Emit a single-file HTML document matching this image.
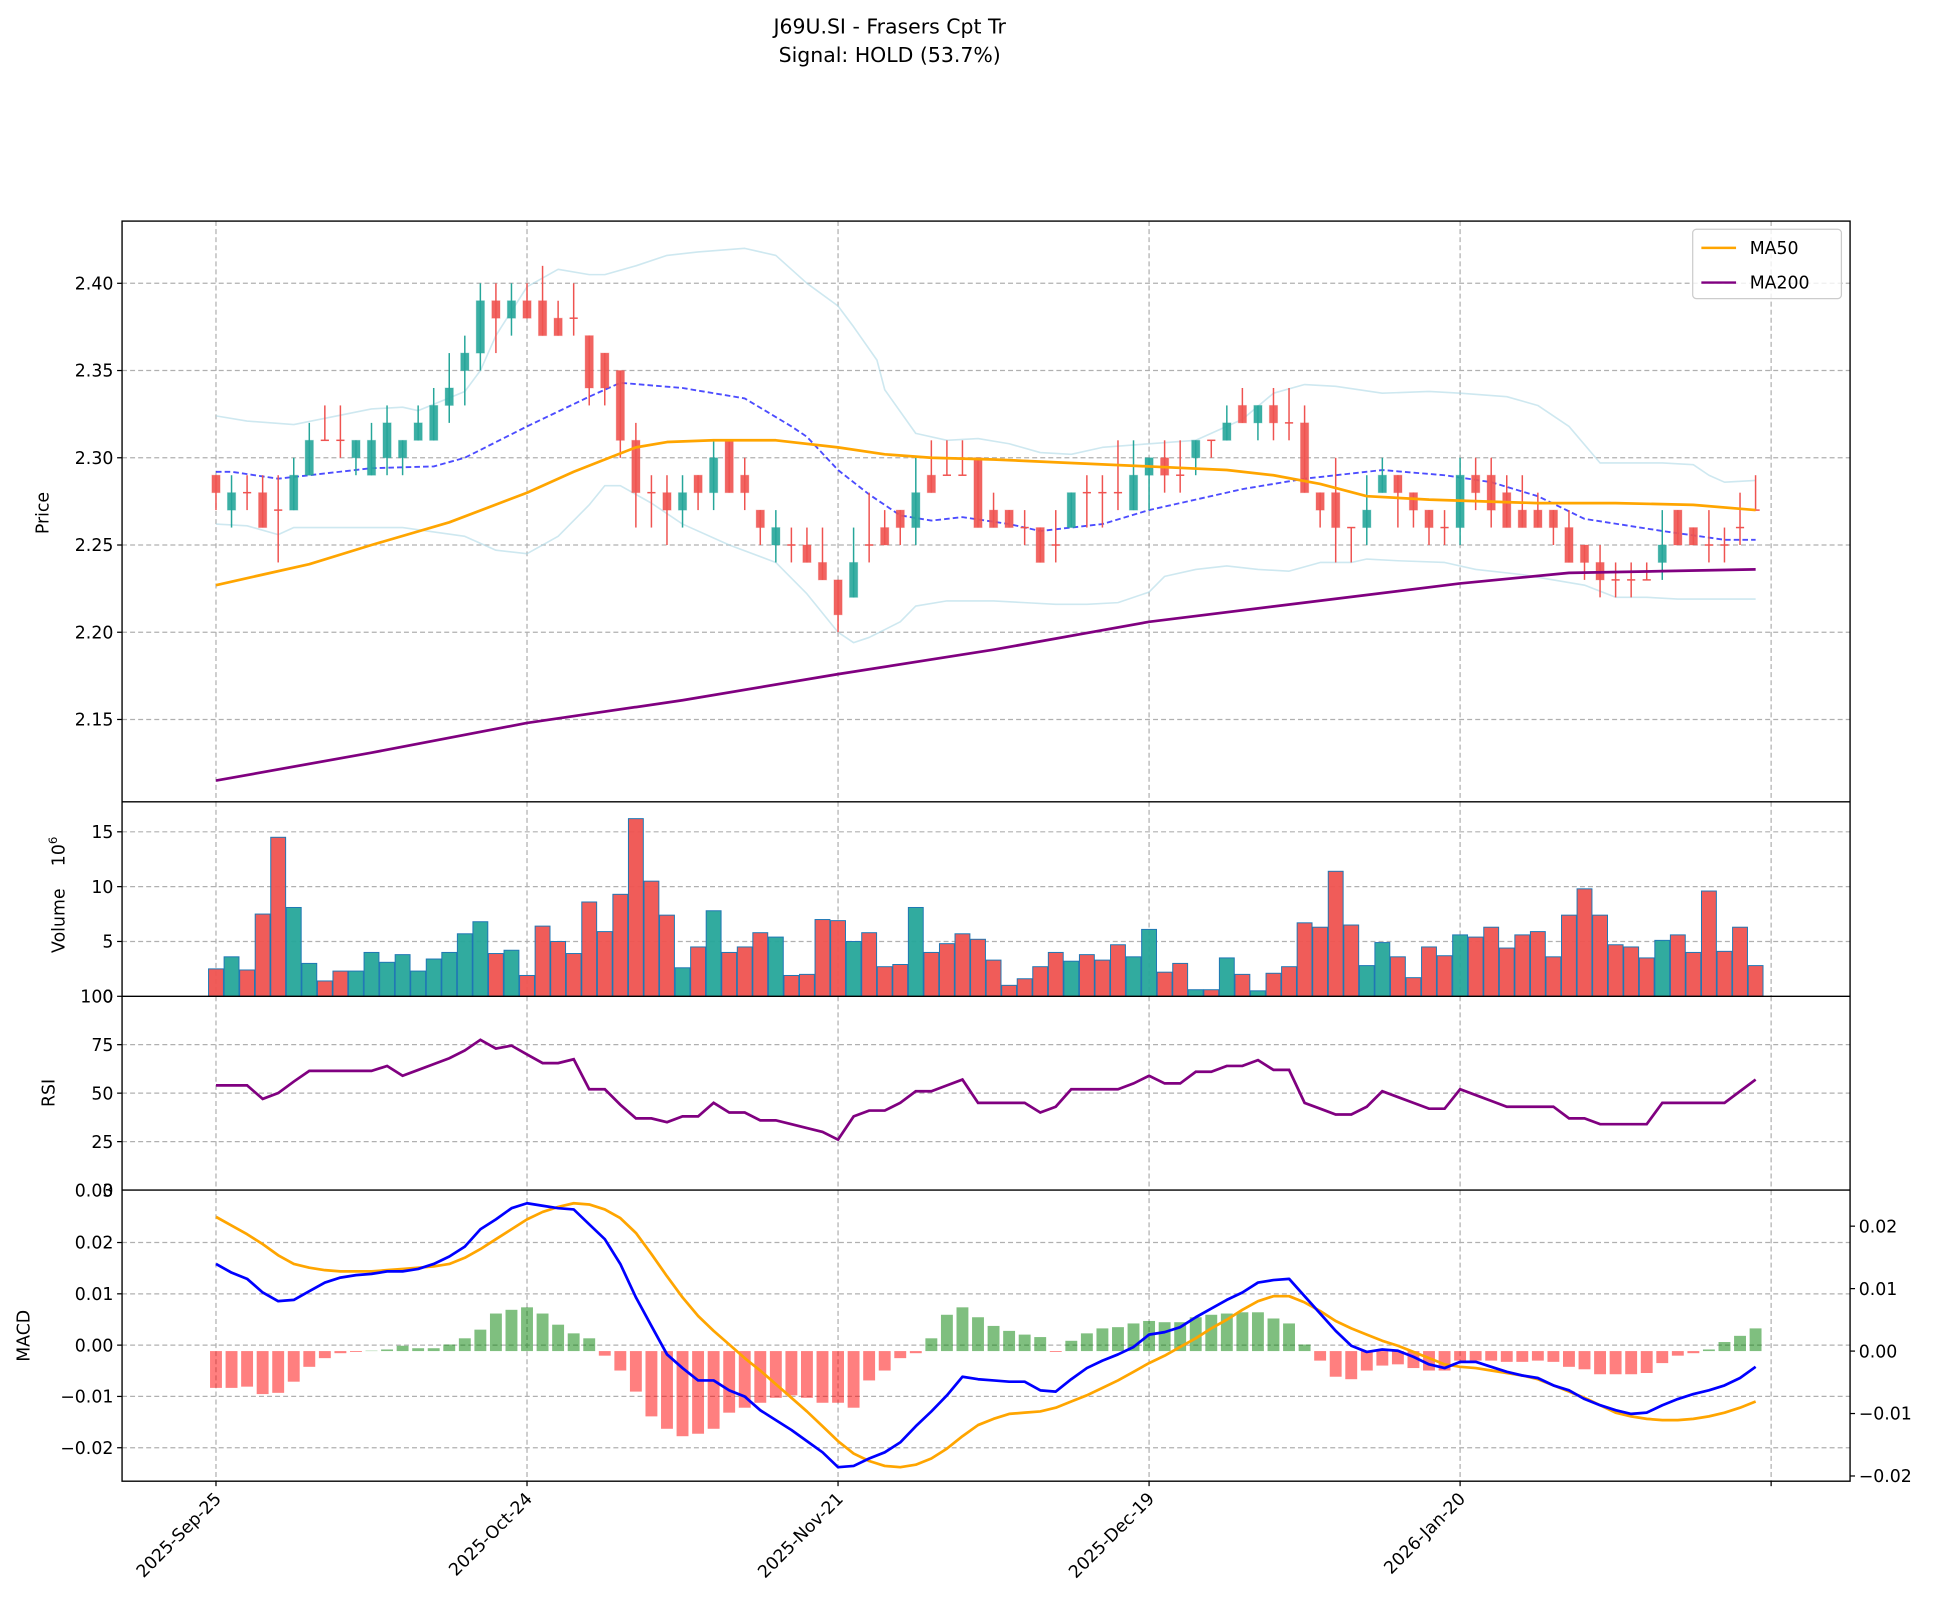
<!DOCTYPE html>
<html><head><meta charset="utf-8">
<style>
html,body{margin:0;padding:0;background:#fff;}
svg{display:block;}
text{font-family:"DejaVu Sans","Liberation Sans",sans-serif;fill:#000;}
</style></head>
<body>
<svg id="s" xmlns="http://www.w3.org/2000/svg" width="1943" height="1620" viewBox="0 0 1568 1307.3">
<rect width="1568" height="1307.3" fill="#fff"/>
<text x="718" y="27" font-size="16.5" text-anchor="middle">J69U.SI - Frasers Cpt Tr</text>
<text x="718" y="50" font-size="16.5" text-anchor="middle">Signal: HOLD (53.7%)</text>
<g id="g"></g>
</svg>
<script>
var g=document.getElementById('g');var h='';var FS=14;
var L=98.5,R=1493,PT=178.4,PB=647,VB=804,RB=960.4,MB=1195.3;
function X(i){return 174.3+12.55*i;}
function PY(p){return 228.6+(2.40-p)*1408;}
function line(x1,y1,x2,y2,st){h+='<line x1="'+x1+'" y1="'+y1+'" x2="'+x2+'" y2="'+y2+'" '+st+'/>';}
var grid='stroke="#b0b0b0" stroke-width="1" stroke-dasharray="4,2.5"';
function txt(x,y,t,a,extra){h+='<text x="'+x+'" y="'+y+'" font-size="'+FS+'" text-anchor="'+(a||'end')+'" '+(extra||'')+'>'+t+'</text>';}
var vx=[0,20,40,60,80,100];
[[PT,PB],[PB,VB],[VB,RB],[RB,MB]].forEach(function(p){vx.forEach(function(i){line(X(i),p[0],X(i),p[1],grid);});});
[2.15,2.20,2.25,2.30,2.35,2.40].forEach(function(p){var y=PY(p);line(L,y,R,y,grid);line(L-4,y,L,y,'stroke="#000"');txt(L-7,y+5,p.toFixed(2));});
[5,10,15].forEach(function(v){var y=VB-v*8.85;line(L,y,R,y,grid);line(L-4,y,L,y,'stroke="#000"');txt(L-7,y+5,v);});
line(L-4,VB,L,VB,'stroke="#000"');txt(L-7,VB+5,'0');
[25,50,75].forEach(function(v){var y=RB-v*1.565;line(L,y,R,y,grid);line(L-4,y,L,y,'stroke="#000"');txt(L-7,y+5,v);});
txt(L-7,VB+5,'100');txt(L-7,RB+5,'0');
[0.02,0.01,0,-0.01,-0.02].forEach(function(v){var y=1085.5-v*4140;line(L,y,R,y,grid);line(L-4,y,L,y,'stroke="#000"');txt(L-7,y+5,(v<0?'\u22120.0'+Math.abs(Math.round(v*100)):v.toFixed(2)));});
txt(L-7,RB+5,'0.03');
[0.02,0.01,0,-0.01,-0.02].forEach(function(v){var y=1090.3-v*5040;line(R,y,R+4,y,'stroke="#000"');txt(R+7,y+5,(v<0?'\u22120.0'+Math.abs(Math.round(v*100)):v.toFixed(2)),'start');});
function pl(pts,st){var s='';pts.forEach(function(p){s+=X(p[0]).toFixed(1)+','+PY(p[1]).toFixed(1)+' ';});h+='<polyline fill="none" points="'+s+'" '+st+' stroke-linejoin="round"/>';}
var up=[[0,2.324],[2,2.321],[5,2.319],[10,2.328],[12,2.329],[13,2.327],[16,2.338],[17,2.350],[18,2.370],[20,2.398],[22,2.408],[24,2.405],[25,2.405],[27,2.410],[29,2.416],[31,2.418],[34,2.420],[36,2.416],[38,2.400],[40,2.387],[41,2.375],[42.5,2.356],[43,2.339],[45,2.314],[47,2.310],[49,2.311],[51,2.308],[53,2.303],[55,2.302],[57,2.306],[60,2.308],[63,2.310],[66,2.322],[68,2.337],[70,2.342],[72,2.341],[75,2.337],[78,2.338],[80,2.337],[83,2.335],[85,2.330],[87,2.318],[89,2.297],[91,2.297],[93,2.297],[95,2.296],[96,2.290],[97,2.286],[99,2.287]];
var lo=[[0,2.262],[2,2.261],[4,2.256],[5,2.260],[12,2.260],[16,2.255],[18,2.247],[20,2.245],[22,2.255],[24,2.273],[25,2.284],[26,2.284],[28,2.274],[30,2.262],[33,2.250],[36,2.240],[38,2.222],[40,2.200],[41,2.194],[42,2.197],[44,2.206],[45,2.215],[47,2.218],[50,2.218],[52,2.217],[54,2.216],[56,2.216],[58,2.217],[60,2.223],[61,2.232],[63,2.236],[65,2.238],[67,2.236],[69,2.235],[71,2.240],[73,2.240],[74,2.242],[76,2.241],[79,2.240],[81,2.236],[84,2.233],[86,2.230],[88,2.227],[90,2.220],[92,2.220],[94,2.219],[96,2.219],[99,2.219]];
pl(up,'stroke="#add8e6" stroke-opacity="0.6" stroke-width="1.3"');
pl(lo,'stroke="#add8e6" stroke-opacity="0.6" stroke-width="1.3"');
var mid=[[0,2.292],[1,2.292],[4,2.288],[10,2.294],[14,2.295],[16,2.300],[20,2.318],[24,2.335],[26,2.343],[30,2.340],[34,2.334],[37,2.318],[38,2.312],[40,2.293],[42,2.279],[44,2.267],[46,2.264],[48,2.266],[51,2.262],[53,2.258],[57,2.262],[60,2.270],[66,2.282],[70,2.288],[75,2.293],[79,2.290],[82,2.286],[85,2.278],[88,2.265],[93,2.258],[97,2.253],[99,2.253]];
pl(mid,'stroke="#0000ff" stroke-opacity="0.7" stroke-width="1.5" stroke-dasharray="4.5,2.5"');
var C=[[2.29,2.29,2.27,2.28],[2.27,2.29,2.26,2.28],[2.28,2.29,2.27,2.28],[2.28,2.29,2.26,2.26],[2.27,2.29,2.24,2.27],[2.27,2.30,2.27,2.29],[2.29,2.32,2.29,2.31],[2.31,2.33,2.31,2.31],[2.31,2.33,2.30,2.31],[2.30,2.31,2.29,2.31],[2.29,2.32,2.29,2.31],[2.30,2.33,2.29,2.32],[2.30,2.31,2.29,2.31],[2.31,2.33,2.31,2.32],[2.31,2.34,2.31,2.33],[2.33,2.36,2.32,2.34],[2.35,2.37,2.33,2.36],[2.36,2.40,2.35,2.39],[2.39,2.40,2.36,2.38],[2.38,2.40,2.37,2.39],[2.39,2.40,2.38,2.38],[2.39,2.41,2.37,2.37],[2.38,2.39,2.37,2.37],[2.38,2.40,2.37,2.38],[2.37,2.37,2.33,2.34],[2.36,2.36,2.33,2.34],[2.35,2.35,2.30,2.31],[2.31,2.32,2.26,2.28],[2.28,2.29,2.26,2.28],[2.28,2.29,2.25,2.27],[2.27,2.29,2.26,2.28],[2.29,2.29,2.27,2.28],[2.28,2.31,2.27,2.30],[2.31,2.31,2.28,2.28],[2.29,2.30,2.27,2.28],[2.27,2.27,2.25,2.26],[2.25,2.27,2.24,2.26],[2.25,2.26,2.24,2.25],[2.25,2.26,2.24,2.24],[2.24,2.26,2.23,2.23],[2.23,2.23,2.20,2.21],[2.22,2.26,2.22,2.24],[2.25,2.28,2.24,2.25],[2.26,2.27,2.25,2.25],[2.27,2.27,2.25,2.26],[2.26,2.30,2.25,2.28],[2.29,2.31,2.28,2.28],[2.29,2.31,2.29,2.29],[2.29,2.31,2.29,2.29],[2.30,2.30,2.26,2.26],[2.27,2.28,2.26,2.26],[2.27,2.27,2.26,2.26],[2.26,2.27,2.25,2.26],[2.26,2.26,2.24,2.24],[2.25,2.27,2.24,2.25],[2.26,2.28,2.26,2.28],[2.28,2.29,2.26,2.28],[2.28,2.29,2.26,2.28],[2.28,2.31,2.27,2.28],[2.27,2.31,2.27,2.29],[2.29,2.30,2.27,2.30],[2.30,2.31,2.28,2.29],[2.29,2.31,2.28,2.29],[2.30,2.31,2.29,2.31],[2.31,2.31,2.30,2.31],[2.31,2.33,2.31,2.32],[2.33,2.34,2.32,2.32],[2.32,2.33,2.31,2.33],[2.33,2.34,2.31,2.32],[2.32,2.34,2.31,2.32],[2.32,2.33,2.28,2.28],[2.28,2.28,2.26,2.27],[2.28,2.30,2.24,2.26],[2.26,2.26,2.24,2.26],[2.26,2.29,2.25,2.27],[2.28,2.30,2.28,2.29],[2.29,2.29,2.26,2.28],[2.28,2.28,2.26,2.27],[2.27,2.27,2.25,2.26],[2.26,2.27,2.25,2.26],[2.26,2.30,2.25,2.29],[2.29,2.30,2.27,2.28],[2.29,2.30,2.26,2.27],[2.28,2.29,2.26,2.26],[2.27,2.29,2.26,2.26],[2.27,2.28,2.26,2.26],[2.27,2.27,2.25,2.26],[2.26,2.27,2.24,2.24],[2.25,2.25,2.23,2.24],[2.24,2.25,2.22,2.23],[2.23,2.24,2.22,2.23],[2.23,2.24,2.22,2.23],[2.23,2.24,2.23,2.23],[2.24,2.27,2.23,2.25],[2.27,2.27,2.25,2.25],[2.26,2.26,2.25,2.25],[2.25,2.27,2.24,2.25],[2.25,2.26,2.24,2.25],[2.26,2.28,2.25,2.26],[2.27,2.29,2.27,2.27]];
var RED='#ef5350',GRN='#26a69a';
C.forEach(function(c,i){var x=X(i),col=c[3]>c[0]?GRN:RED;
 line(x,PY(c[1]),x,PY(c[2]),'stroke="'+col+'" stroke-width="1.2"');
 var t=PY(Math.max(c[0],c[3])),b=PY(Math.min(c[0],c[3]));
 if(b-t<1){line(x-3.3,t,x+3.3,t,'stroke="'+col+'" stroke-width="1.2"');}
 else h+='<rect x="'+(x-3.3)+'" y="'+t+'" width="6.6" height="'+(b-t)+'" fill="'+col+'" fill-opacity="0.9" stroke="'+col+'" stroke-opacity="0.3" stroke-width="0.8"/>';});
pl([[0,2.227],[3,2.233],[6,2.239],[10,2.250],[15,2.263],[20,2.280],[23,2.292],[25,2.299],[27,2.306],[29,2.309],[32,2.310],[36,2.310],[40,2.306],[43,2.302],[46,2.300],[50,2.299],[55,2.297],[60,2.295],[65,2.293],[68,2.290],[71,2.285],[74,2.278],[78,2.276],[85,2.274],[90,2.274],[95,2.273],[99,2.270]],'stroke="#ffa500" stroke-width="2.2"');
pl([[0,2.115],[10,2.131],[20,2.148],[30,2.161],[40,2.176],[50,2.190],[60,2.206],[70,2.217],[80,2.228],[87,2.234],[93,2.235],[99,2.236]],'stroke="#800080" stroke-width="2.2"');
h+='<rect x="1366" y="185" width="120" height="56" rx="3" fill="#fff" fill-opacity="0.8" stroke="#ccc"/>';
line(1373,200,1401,200,'stroke="#ffa500" stroke-width="2"');txt(1412,205,'MA50','start');
line(1373,228,1401,228,'stroke="#800080" stroke-width="2"');txt(1412,233,'MA200','start');
var V=[2.5,3.6,2.4,7.5,14.5,8.1,3.0,1.4,2.3,2.3,4.0,3.1,3.8,2.3,3.4,4.0,5.7,6.8,3.9,4.2,1.9,6.4,5.0,3.9,8.6,5.9,9.3,16.2,10.5,7.4,2.6,4.5,7.8,4.0,4.5,5.8,5.4,1.9,2.0,7.0,6.9,5.0,5.8,2.7,2.9,8.1,4.0,4.8,5.7,5.2,3.3,1.0,1.6,2.7,4.0,3.2,3.8,3.3,4.7,3.6,6.1,2.2,3.0,0.6,0.6,3.5,2.0,0.5,2.1,2.7,6.7,6.3,11.4,6.5,2.8,4.9,3.6,1.7,4.5,3.7,5.6,5.4,6.3,4.4,5.6,5.9,3.6,7.4,9.8,7.4,4.7,4.5,3.5,5.1,5.6,4.0,9.6,4.1,6.3,2.8];
V.forEach(function(v,i){var c=C[i],col=c[3]>c[0]?GRN:RED;var y=VB-v*8.85;
 h+='<rect x="'+(X(i)-6)+'" y="'+y+'" width="12" height="'+(VB-y)+'" fill="'+col+'" fill-opacity="0.95" stroke="#1f77b4" stroke-width="0.8"/>';});
var RS=[54,54,54,47,50,56,61.5,61.5,61.5,61.5,61.5,64,59,62,65,68,72,77.5,73,74.5,70,65.5,65.5,67.5,52,52,44,37,37,35,38,38,45,40,40,36,36,34,32,30,26,38,41,41,45,51,51,54,57,45,45,45,45,40,43,52,52,52,52,55,59,55,55,61,61,64,64,67,62,62,45,42,39,39,43,51,48,45,42,42,52,49,46,43,43,43,43,37,37,34,34,34,34,45,45,45,45,45,51,57];
var s='';RS.forEach(function(v,i){s+=X(i).toFixed(1)+','+(RB-v*1.565).toFixed(1)+' ';});
h+='<polyline fill="none" points="'+s+'" stroke="#800080" stroke-width="2.2"/>';
var HY=[1120,1120,1119,1125,1124,1115,1103,1096,1092,1091,1090,1089,1086,1088,1088,1085,1080,1073,1060,1057,1055,1060,1069,1076,1080,1094,1106,1123,1143,1153,1159,1157,1153,1140,1136,1132,1128,1126,1128,1132,1132,1136,1114,1106,1096,1092,1080,1061,1055,1063,1070,1074,1077,1079,1091,1082,1076,1072,1071,1068,1066,1067,1067,1063,1061,1060,1059,1059,1064,1068,1085,1098,1111,1113,1106,1102,1101,1104,1106,1106,1098,1098,1098,1099,1099,1098,1099,1103,1105,1109,1109,1109,1108,1100,1094,1092,1089,1083,1078,1072];
HY.forEach(function(y,i){var z=1090.3;var pos=y<z;var t=Math.min(y,z),hh=Math.abs(y-z);
 h+='<rect x="'+(X(i)-4.8)+'" y="'+t+'" width="9.6" height="'+hh+'" fill="'+(pos?'#008000':'#ff0000')+'" fill-opacity="0.5"/>';});
var BL=[1020,1027,1032,1043,1050,1049,1042,1035,1031,1029,1028,1026,1026,1024,1020,1014,1006,992,984,975,971,973,975,976,988,1000,1020,1047,1070,1093,1104,1114,1114,1122,1127,1138,1146,1154,1163,1172,1184,1183,1177,1172,1164,1151,1139,1126,1111,1113,1114,1115,1115,1122,1123,1113,1104,1098,1093,1087,1077,1075,1071,1063,1056,1049,1043,1035,1033,1032,1046,1060,1074,1086,1091,1089,1090,1095,1101,1104,1099,1099,1103,1107,1110,1112,1118,1122,1129,1134,1138,1141,1140,1134,1129,1125,1122,1118,1112,1103];
var OR=[982,989,996,1004,1013,1020,1023,1025,1026,1026,1026,1025,1024,1023,1022,1020,1015,1008,1000,992,984,978,974,971,972,976,983,995,1012,1030,1047,1062,1074,1085,1096,1106,1117,1128,1139,1151,1163,1173,1179,1183,1184,1182,1177,1169,1159,1150,1145,1141,1140,1139,1136,1131,1126,1120,1114,1107,1100,1094,1087,1080,1072,1065,1057,1050,1046,1046,1051,1058,1066,1072,1077,1082,1086,1091,1096,1101,1103,1104,1106,1108,1110,1113,1118,1123,1128,1134,1140,1143,1145,1146,1146,1145,1143,1140,1136,1131];
function yl(a,col){var s='';a.forEach(function(y,i){s+=X(i).toFixed(1)+','+y+' ';});h+='<polyline fill="none" points="'+s+'" stroke="'+col+'" stroke-width="2.2" stroke-linejoin="round"/>';}
yl(OR,'#ffa500');yl(BL,'#0000ff');
var sp='stroke="#000" stroke-width="1.1" fill="none"';
h+='<rect x="'+L+'" y="'+PT+'" width="'+(R-L)+'" height="'+(MB-PT)+'" '+sp+'/>';
line(L,PB,R,PB,sp);line(L,VB,R,VB,sp);line(L,RB,R,RB,sp);
var lab=['2025-Sep-25','2025-Oct-24','2025-Nov-21','2025-Dec-19','2026-Jan-20'];
vx.forEach(function(i,k){var x=X(i);line(x,MB,x,MB+4,'stroke="#000"');
 if(lab[k])h+='<text x="'+(x+5)+'" y="'+(MB+15)+'" font-size="'+FS+'" text-anchor="end" transform="rotate(-45 '+(x+5)+' '+(MB+15)+')">'+lab[k]+'</text>';});
h+='<text font-size="'+FS+'" text-anchor="middle" transform="translate(39,414) rotate(-90)">Price</text>';
h+='<text font-size="'+FS+'" text-anchor="middle" transform="translate(52,743) rotate(-90)">Volume</text>';
h+='<text font-size="'+FS+'" text-anchor="start" transform="translate(52,699) rotate(-90)">10<tspan font-size="9.5" dy="-6">6</tspan></text>';
h+='<text font-size="'+FS+'" text-anchor="middle" transform="translate(44,882) rotate(-90)">RSI</text>';
h+='<text font-size="'+FS+'" text-anchor="middle" transform="translate(24,1078) rotate(-90)">MACD</text>';
g.innerHTML=h;
</script>
</body></html>
